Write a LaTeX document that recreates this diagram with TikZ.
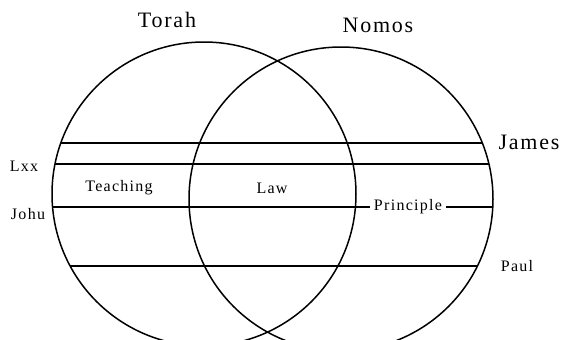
\documentclass[tikz,border=0pt]{standalone}
\usepackage{fontspec}
\setmainfont[LetterSpace=8]{Liberation Serif}
\begin{document}
\begin{tikzpicture}[x=0.5pt,y=-0.5pt,line width=0.75pt,
  big/.style={font=\fontsize{11}{13}\selectfont},
  small/.style={font=\fontsize{8}{9}\selectfont}]
 \useasboundingbox (0,0) rectangle (563,339);
 \draw (204,194) circle (152);
 \draw (341,199) circle (152);
 \node[big] (torah) at (167,20) {Torah};
 \node[big] (nomos) at (378,25) {Nomos};
 \node[big] (james) at (529,142) {James};
 \node[small] (lxx) at (24,166) {Lxx};
 \node[small] (johu) at (28,214) {Johu};
 \node[small] (paul) at (517,266) {Paul};
 \node[small] (teach) at (119,188) {Teaching};
 \node[small] (law) at (272,188) {Law};
 \node[small, inner sep=1.5pt] (prin) at (408,207) {Principle};
 \begin{scope}
  \clip (204,194) circle (152) (341,199) circle (152);
  \draw (0,143) -- (563,143);
  \draw (0,164) -- (563,164);
  \draw (0,207) -- (prin.west) (prin.east) -- (563,207);
  \draw (0,266) -- (563,266);
 \end{scope}
\end{tikzpicture}
\end{document}
